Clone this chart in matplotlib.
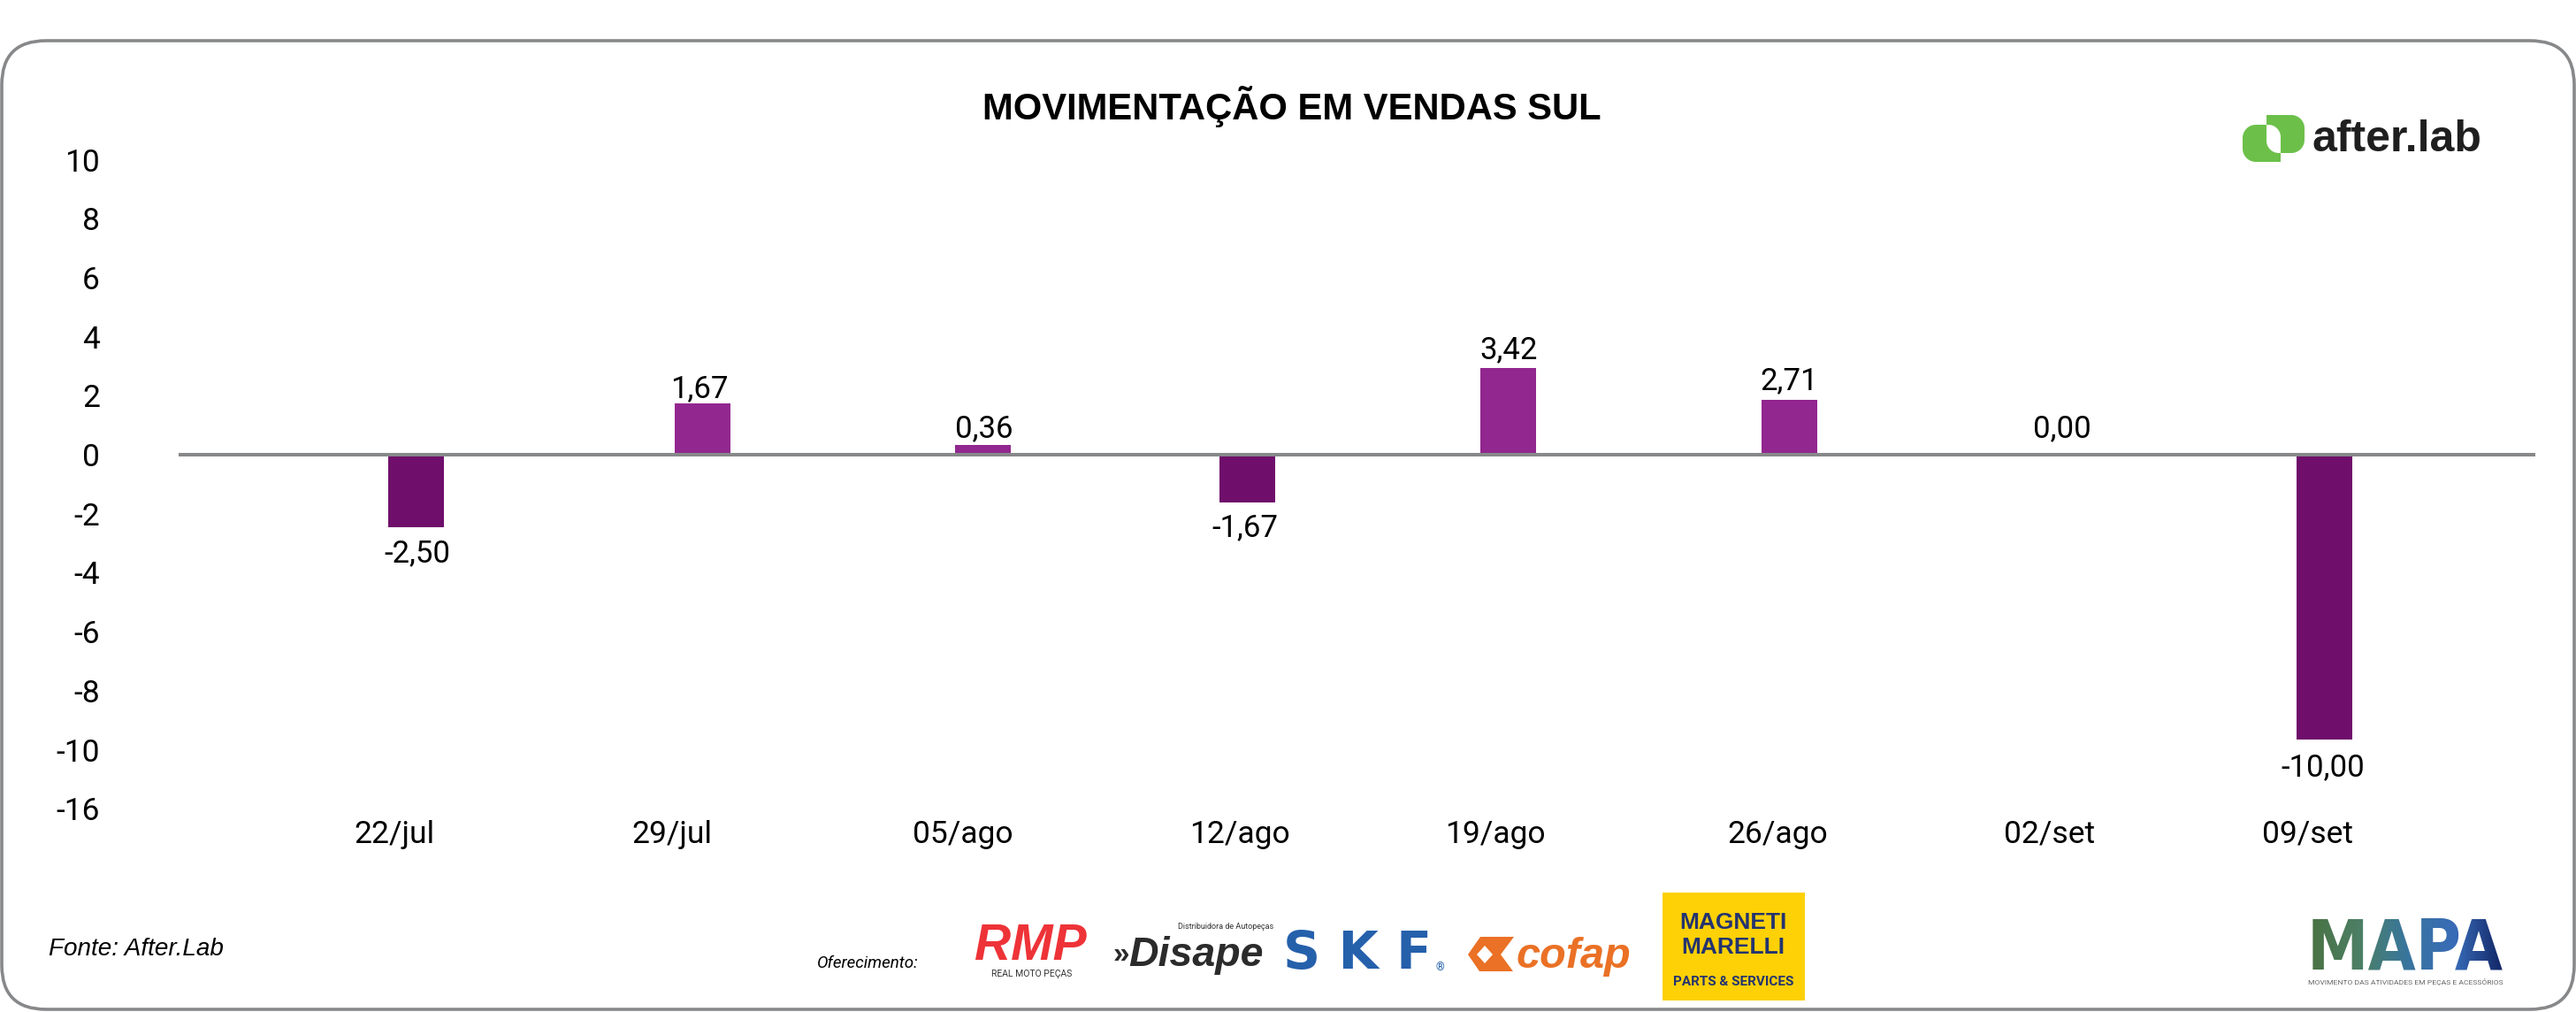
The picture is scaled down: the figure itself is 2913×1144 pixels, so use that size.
import numpy as np
import matplotlib
matplotlib.use("Agg")
import matplotlib.pyplot as plt
from matplotlib.patches import FancyBboxPatch, Polygon, Rectangle

# ---- data ----
categories = ["22/jul", "29/jul", "05/ago", "12/ago", "19/ago", "26/ago", "02/set", "09/set"]
bar_heights = [-2.46, 1.74, 0.33, -1.62, 2.93, 1.87, 0.0, -9.67]
value_labels = ["-2,50", "1,67", "0,36", "-1,67", "3,42", "2,71", "0,00", "-10,00"]
y_tick_values = [10, 8, 6, 4, 2, 0, -2, -4, -6, -8, -10, -12]
y_tick_labels = ["10", "8", "6", "4", "2", "0", "-2", "-4", "-6", "-8", "-10", "-16"]
title = "MOVIMENTAÇÃO EM VENDAS SUL"

# ---- layout (figure pixels) ----
W, H = 2913, 1144
bar_x = [470, 794.5, 1111.5, 1410, 1705, 2023, 2332, 2628]
label_x = [471.5, 791, 1113, 1408, 1706, 2023, 2332, 2627]
label_gap = [30, 16.5, 18, 28.6, 21, 20.5, 29, 31]
tick_x = [446, 760, 1089, 1402, 1691, 2010, 2318, 2610]
FONT = "Roboto"
GREY = "#87888a"
PX = 72 / 100  # points per pixel

fig = plt.figure(figsize=(W / 100, H / 100), dpi=100, facecolor="white")

# overlay in pixel coordinates for frame and sponsor marks
ov = fig.add_axes([0, 0, 1, 1])
ov.set_xlim(0, W)
ov.set_ylim(H, 0)
ov.axis("off")
ov.add_patch(FancyBboxPatch((2 + 50, 46 + 50), W - 4 - 100, 1141 - 46 - 100,
                            boxstyle="round,pad=50,rounding_size=50",
                            fc="white", ec=GREY, lw=2.6))

# chart axes: y scale 33.35 px/unit with 0 at y=514
y0, per_unit = 514, 33.35
top, bottom = 10, -12
ax = fig.add_axes([202 / W, 1 - (y0 - bottom * per_unit) / H,
                   (2867 - 202) / W, (top - bottom) * per_unit / H])
ax.patch.set_alpha(0)
ax.set_xlim(202, 2867)
ax.set_ylim(bottom, top)
for s in ax.spines.values():
    s.set_visible(False)

colors = ["#6f0f6b" if v < 0 else "#92278f" for v in bar_heights]
ax.bar(bar_x, bar_heights, width=63, color=colors, linewidth=0, zorder=2)
ax.axhline(0, color=GREY, lw=2.9, zorder=3)

ax.set_yticks(y_tick_values, y_tick_labels)
ax.set_xticks(tick_x, categories)
ax.tick_params(axis="both", length=0, labelsize=25.5, labelcolor="black")
for lab in ax.get_xticklabels() + ax.get_yticklabels():
    lab.set_fontfamily(FONT)
ax.yaxis.set_tick_params(pad=64)
ax.xaxis.set_tick_params(pad=9)

for x, lx, h, t, gap in zip(bar_x, label_x, bar_heights, value_labels, label_gap):
    sign = -1 if h < 0 else 1
    ax.annotate(t, (x, h), xytext=((lx - x) * PX, sign * gap * PX), textcoords="offset points",
                ha="center", va="center", fontsize=25, family=FONT, color="black", zorder=4)

# title and notes
ov.text(1461, 121, title, ha="center", va="center", fontsize=30.1, fontweight="bold",
        family="Liberation Sans", color="black")
ov.text(55, 1073, "Fonte: After.Lab", ha="left", va="center", fontsize=20.1, style="italic",
        family="Liberation Sans", color="black")
ov.text(924, 1089, "Oferecimento:", ha="left", va="center", fontsize=13.5, style="italic",
        family=FONT, color="black")


def rrect(x0, y0_, x1, y1, tl, tr, br, bl, n=16):
    """Rectangle outline with separate corner radii, in pixel coordinates."""
    pts = []
    for cx, cy, r, a0 in [(x0 + tl, y0_ + tl, tl, 180), (x1 - tr, y0_ + tr, tr, 270),
                          (x1 - br, y1 - br, br, 0), (x0 + bl, y1 - bl, bl, 90)]:
        a = np.radians(np.linspace(a0, a0 + 90, n))
        pts.append(np.c_[cx + r * np.cos(a), cy + r * np.sin(a)])
    return np.vstack(pts)


# after.lab logo
GREEN = "#6cc04a"
ov.add_patch(Polygon(rrect(2536, 141, 2579, 183, 15, 0, 0, 15), fc=GREEN, ec="none", zorder=4))
ov.add_patch(Polygon(rrect(2563, 130, 2606, 173, 0, 15, 15, 0), fc=GREEN, ec="none", zorder=4))
ov.add_patch(Polygon(rrect(2563, 141, 2579, 173, 0, 14, 0, 14), fc="white", ec="none", zorder=5))
ov.text(2615, 158, "after.lab", ha="left", va="center", fontsize=36, fontweight="bold",
        family="Liberation Sans", color="#1f1f1f", zorder=5)

# RMP
RED = "#ee3338"
ov.text(1102, 1070, "RMP", ha="left", va="center", fontsize=41, fontweight="bold", style="italic",
        family="Liberation Sans", color=RED, zorder=5)
ov.text(1121, 1101, "REAL MOTO PEÇAS", ha="left", va="center", fontsize=7.5, family=FONT, color="#333333")

# Disape
ov.text(1258, 1080, "»", ha="left", va="center", fontsize=24, fontweight="bold", family="Liberation Sans", color="#2b2b2b")
ov.text(1276, 1080, "Disape", ha="left", va="center", fontsize=33.5, fontweight="bold", style="italic",
        family="Liberation Sans", color="#2b2b2b")
ov.text(1332, 1047, "Distribuidora de Autopeças", ha="left", va="center", fontsize=6.5, family=FONT, color="#333333")

# SKF
ov.text(1451, 1078, "S K F", ha="left", va="center", fontsize=42, fontweight="bold", family="DejaVu Sans",
        color="#2560ab")
ov.text(1628, 1094, "®", ha="center", va="center", fontsize=9, family=FONT, color="#2560ab")

# cofap
ov.add_patch(Polygon([[1660, 1079], [1674, 1059], [1712, 1059], [1697, 1079], [1711, 1098], [1673, 1098]],
                     fc="#ea7125", ec="none", zorder=5))
ov.add_patch(Polygon([[1670, 1079], [1679, 1069], [1688, 1079], [1679, 1089]], fc="white", ec="none", zorder=6))
ov.text(1714, 1081, "cofap", ha="left", va="center", fontsize=35, fontweight="bold", style="italic",
        family="Liberation Sans", color="#ea7125")

# Magneti Marelli
NAVY = "#24346f"
ov.add_patch(Rectangle((1880, 1009), 161, 122, fc="#fdd106", ec="none", zorder=4))
ov.text(1960, 1043, "MAGNETI", ha="center", va="center", fontsize=19, fontweight="bold",
        family=["Liberation Sans Narrow", "Liberation Sans"], color=NAVY, zorder=6)
ov.text(1960, 1071, "MARELLI", ha="center", va="center", fontsize=19, fontweight="bold",
        family=["Liberation Sans Narrow", "Liberation Sans"], color=NAVY, zorder=6)
ov.text(1960, 1110, "PARTS & SERVICES", ha="center", va="center", fontsize=11, fontweight="bold", family=FONT,
        color=NAVY, zorder=6)

# MAPA logo: real text, tinted left to right by an image filter
stops = np.array([[0.29, 0.45, 0.27], [0.30, 0.50, 0.40], [0.22, 0.46, 0.62], [0.22, 0.42, 0.72], [0.07, 0.15, 0.40]])


def tint(img, dpi):
    out = img.copy()
    t = np.linspace(0, 1, img.shape[1])
    for c in range(3):
        out[:, :, c] = np.interp(t, np.linspace(0, 1, len(stops)), stops[:, c])
    return out, 0, 0


mapa = ov.text(2720, 1073, "MAPA", ha="center", va="center", fontsize=56, fontweight="bold",
               family="DejaVu Sans", stretch="condensed", color="black", zorder=5)
mapa.set_agg_filter(tint)
ov.text(2720, 1110, "MOVIMENTO DAS ATIVIDADES EM PEÇAS E ACESSÓRIOS", ha="center", va="center", fontsize=6.1,
        family=FONT, color="#666666", zorder=6)

fig.savefig("out.png", dpi=100)
